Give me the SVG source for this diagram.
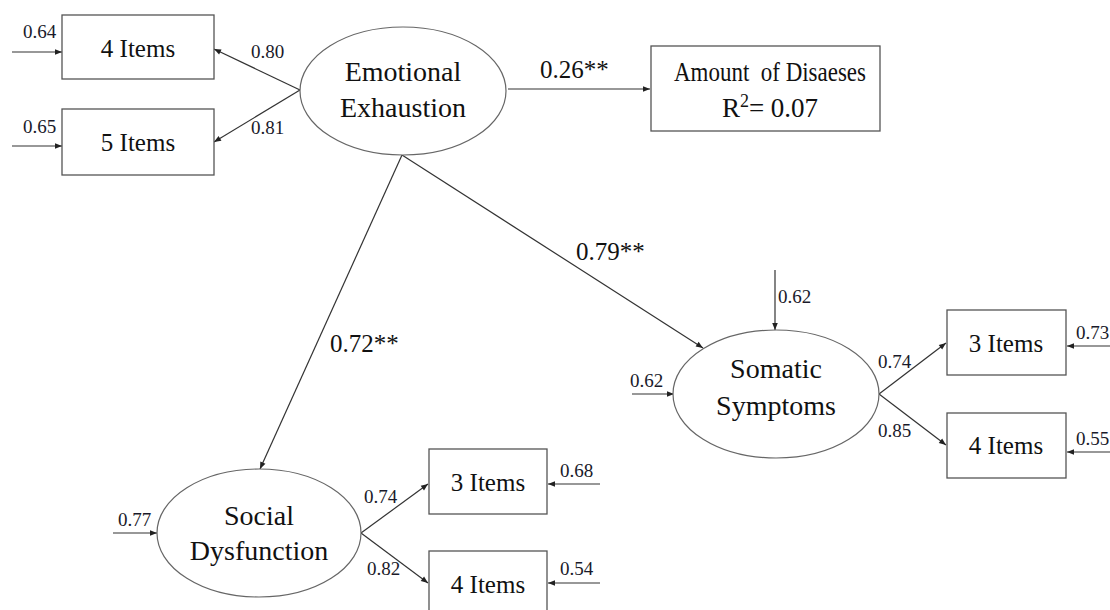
<svg xmlns="http://www.w3.org/2000/svg" width="1110" height="610" viewBox="0 0 1110 610">
<defs>
<marker id="ah" viewBox="0 0 10 10" refX="10" refY="5" markerWidth="8" markerHeight="7" markerUnits="userSpaceOnUse" orient="auto"><path d="M0,1 L10,5 L0,9 z" fill="#222"/></marker>
<style>
.box{fill:#fff;stroke:#555;stroke-width:1.3}
.ell{fill:#fff;stroke:#666;stroke-width:1.2}
.c{fill:none;stroke:#333;stroke-width:1.2;marker-end:url(#ah)}
text{font-family:'Liberation Serif','Tinos','DejaVu Serif',serif}
.t{fill:#111;text-anchor:middle}
.big{font-size:28px}
.it{font-size:25px}
.am{font-size:27px}
.s{font-size:19px;fill:#1a1a2a}
.m{font-size:25px;fill:#111}
</style>
</defs>
<rect width="1110" height="610" fill="#fff"/>
<g id="connectors">
<path class="c" d="M12,52 L62,52"/>
<path class="c" d="M12,146 L62,146"/>
<path class="c" d="M300,90 L214,49"/>
<path class="c" d="M300,90 L214,142"/>
<path class="c" d="M508,89 L650,89"/>
<path class="c" d="M402,155 L703,348"/>
<path class="c" d="M402,155 L260,469"/>
<path class="c" d="M775,270 L775,330"/>
<path class="c" d="M632,394 L674,394"/>
<path class="c" d="M879,394 L946,343"/>
<path class="c" d="M879,394 L946,445"/>
<path class="c" d="M1110,346 L1067,346"/>
<path class="c" d="M1110,452 L1067,452"/>
<path class="c" d="M113,533 L157,533"/>
<path class="c" d="M361,533 L428,484"/>
<path class="c" d="M361,533 L428,583"/>
<path class="c" d="M600,484 L548,484"/>
<path class="c" d="M600,583 L548,583"/>
<text class="s" x="23" y="38">0.64</text>
<text class="s" x="23" y="133">0.65</text>
<text class="s" x="251" y="58">0.80</text>
<text class="s" x="251" y="134">0.81</text>
<text class="m" x="540" y="78">0.26**</text>
<text class="m" x="576" y="260">0.79**</text>
<text class="m" x="330" y="352">0.72**</text>
<text class="s" x="778" y="303">0.62</text>
<text class="s" x="630" y="387">0.62</text>
<text class="s" x="878" y="368">0.74</text>
<text class="s" x="878" y="437">0.85</text>
<text class="s" x="1076" y="339">0.73</text>
<text class="s" x="1076" y="445">0.55</text>
<text class="s" x="118" y="526">0.77</text>
<text class="s" x="364" y="503">0.74</text>
<text class="s" x="367" y="575">0.82</text>
<text class="s" x="560" y="477">0.68</text>
<text class="s" x="560" y="575">0.54</text>
</g>
<g id="ee-items4"><rect class="box" x="62" y="15" width="152" height="64"/><text class="t it" x="138" y="57">4 Items</text></g>
<g id="ee-items5"><rect class="box" x="62" y="109" width="152" height="66"/><text class="t it" x="138" y="151">5 Items</text></g>
<g id="emotional-exhaustion"><ellipse class="ell" cx="403" cy="91" rx="103" ry="64"/><text class="t big" x="403" y="81">Emotional</text><text class="t big" x="403" y="117">Exhaustion</text></g>
<g id="amount-diseases"><rect class="box" x="651" y="46" width="229" height="85"/><text class="t am" x="770" y="81" textLength="192" lengthAdjust="spacingAndGlyphs" xml:space="preserve">Amount  of Disaeses</text><text class="t am" x="770" y="117">R<tspan font-size="18" dy="-10">2</tspan><tspan dy="10">= 0.07</tspan></text></g>
<g id="somatic-symptoms"><ellipse class="ell" cx="776" cy="394" rx="103" ry="64"/><text class="t big" x="776" y="378">Somatic</text><text class="t big" x="776" y="415">Symptoms</text></g>
<g id="ss-items3"><rect class="box" x="947" y="310" width="119" height="65"/><text class="t it" x="1006" y="352">3 Items</text></g>
<g id="ss-items4"><rect class="box" x="947" y="413" width="119" height="65"/><text class="t it" x="1006" y="454">4 Items</text></g>
<g id="social-dysfunction"><ellipse class="ell" cx="259" cy="533" rx="102" ry="64"/><text class="t big" x="259" y="525">Social</text><text class="t big" x="259" y="560">Dysfunction</text></g>
<g id="sd-items3"><rect class="box" x="429" y="449" width="118" height="65"/><text class="t it" x="488" y="491">3 Items</text></g>
<g id="sd-items4"><rect class="box" x="429" y="551" width="118" height="65"/><text class="t it" x="488" y="593">4 Items</text></g>
</svg>
